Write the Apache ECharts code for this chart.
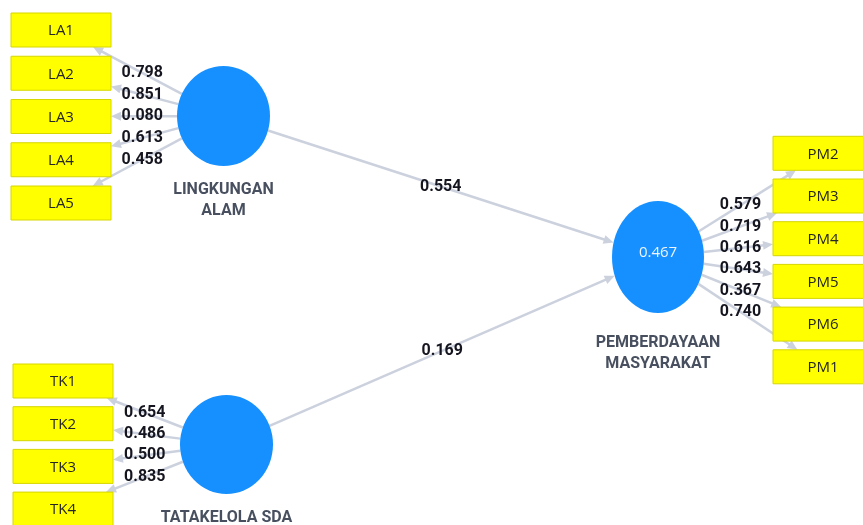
<!DOCTYPE html>
<html><head><meta charset="utf-8">
<script src="https://cdn.jsdelivr.net/npm/echarts@6/dist/echarts.min.js"></script>
<style>html,body{margin:0;padding:0;background:#fff}#c{width:863px;height:525px}</style>
</head><body><div id="c"></div>
<script>
// ---- data ----
const constructNames = ['LINGKUNGAN\nALAM', 'TATAKELOLA SDA', 'PEMBERDAYAAN\nMASYARAKAT'];
const constructR2 = ['', '', '0.467'];
const laIndicators = ['LA1', 'LA2', 'LA3', 'LA4', 'LA5'];
const laLoadings = [0.798, 0.851, 0.080, 0.613, 0.458];
const tkIndicators = ['TK1', 'TK2', 'TK3', 'TK4'];
const tkLoadings = [0.654, 0.486, 0.500, 0.835];
const pmIndicators = ['PM2', 'PM3', 'PM4', 'PM5', 'PM6', 'PM1'];
const pmLoadings = [0.579, 0.719, 0.616, 0.643, 0.367, 0.740];
const pathFrom = [0, 1];          // index into constructNames
const pathTo = [2, 2];
const pathCoefficients = [0.554, 0.169];

// ---- layout (positions / sizes) ----
const W = 863, H = 525;
const BOX_W = 100, BOX_H = 34;
const LABEL_LH = 21;
const constructLayout = [
  { cx: 223.5, cy: 116,   rx: 46.5, ry: 50,   boxX: 61,  boxY0: 30,    step: 43.25, labelDy: 74 },
  { cx: 226.5, cy: 444.5, rx: 46.5, ry: 49.5, boxX: 63,  boxY0: 381,   step: 42.7,  labelDy: 73.5 },
  { cx: 658,   cy: 257,   rx: 46,   ry: 56,   boxX: 823, boxY0: 153.3, step: 42.7,  labelDy: 86 }
];
const indicatorSets = [
  { names: laIndicators, loads: laLoadings },
  { names: tkIndicators, loads: tkLoadings },
  { names: pmIndicators, loads: pmLoadings }
];
const EDGE = '#ccd1de';
const FONT = '"Open Sans", "Noto Sans", sans-serif';
const BOLD_FONT = 'Roboto, "Open Sans", sans-serif';

function ellipseEdge(c, p) {
  const dx = p[0] - c.cx, dy = p[1] - c.cy;
  const s = 1 / Math.sqrt((dx / c.rx) ** 2 + (dy / c.ry) ** 2);
  return [c.cx + dx * s, c.cy + dy * s];
}
function boxEdge(b, p) {
  const dx = p[0] - b[0], dy = p[1] - b[1];
  const s = Math.min((BOX_W / 2) / Math.abs(dx || 1e-9), (BOX_H / 2) / Math.abs(dy || 1e-9));
  return [b[0] + dx * s, b[1] + dy * s];
}

const boxes = [], edges = [], edgeLabels = [], circles = [];
constructLayout.forEach((c, ci) => {
  circles.push([c.cx, c.cy, c.rx, c.ry, constructNames[ci], constructR2[ci], c.labelDy]);
  const set = indicatorSets[ci];
  set.names.forEach((n, i) => {
    const b = [c.boxX, c.boxY0 + i * c.step];
    boxes.push([b[0], b[1], n]);
    const s = ellipseEdge(c, b), e = boxEdge(b, [c.cx, c.cy]);
    edges.push([s[0], s[1], e[0], e[1]]);
    edgeLabels.push([(c.cx + b[0]) / 2, (c.cy + b[1]) / 2, set.loads[i].toFixed(3)]);
  });
});
pathFrom.forEach((f, k) => {
  const a = constructLayout[f], b = constructLayout[pathTo[k]];
  const s = ellipseEdge(a, [b.cx, b.cy]), e = ellipseEdge(b, [a.cx, a.cy]);
  edges.push([s[0], s[1], e[0], e[1]]);
  edgeLabels.push([(a.cx + b.cx) / 2, (a.cy + b.cy) / 2, pathCoefficients[k].toFixed(3)]);
});

const chart = echarts.init(document.getElementById('c'));
chart.setOption({
  animation: false,
  backgroundColor: '#fff',
  grid: { left: 0, right: 0, top: 0, bottom: 0 },
  xAxis: { type: 'value', min: 0, max: W, show: false },
  yAxis: { type: 'value', min: 0, max: H, inverse: true, show: false },
  series: [
    {
      type: 'custom', data: edges, z: 1, silent: true,
      renderItem(params, api) {
        const p1 = api.coord([api.value(0), api.value(1)]);
        const p2 = api.coord([api.value(2), api.value(3)]);
        const dx = p2[0] - p1[0], dy = p2[1] - p1[1], L = Math.hypot(dx, dy);
        const ux = dx / L, uy = dy / L, AL = 10, AW = 4.5;
        const bx = p2[0] - ux * AL, by = p2[1] - uy * AL;
        return { type: 'group', children: [
          { type: 'line', shape: { x1: p1[0], y1: p1[1], x2: bx + ux, y2: by + uy }, style: { stroke: EDGE, lineWidth: 2.5 } },
          { type: 'polygon', shape: { points: [[p2[0], p2[1]], [bx - uy * AW, by + ux * AW], [bx + uy * AW, by - ux * AW]] }, style: { fill: EDGE } }
        ] };
      }
    },
    {
      type: 'custom', data: boxes, z: 2, silent: true,
      renderItem(params, api) {
        const p = api.coord([api.value(0), api.value(1)]);
        const sz = api.size([BOX_W, BOX_H]);
        return { type: 'group', children: [
          { type: 'rect', shape: { x: p[0] - sz[0] / 2, y: p[1] - sz[1] / 2, width: sz[0], height: sz[1] },
            style: { fill: '#ffff00', stroke: '#d6d600', lineWidth: 1 } },
          { type: 'text', style: { text: boxes[params.dataIndex][2], x: p[0], y: p[1] + 1, align: 'center', verticalAlign: 'middle',
            fill: '#262626', fontSize: 15, fontFamily: FONT } }
        ] };
      }
    },
    {
      type: 'custom', data: circles, z: 3, silent: true,
      renderItem(params, api) {
        const d = circles[params.dataIndex];
        const p = api.coord([d[0], d[1]]);
        const sz = api.size([d[2], d[3]]);
        return { type: 'group', children: [
          { type: 'circle', x: p[0], y: p[1], scaleY: sz[1] / sz[0], shape: { cx: 0, cy: 0, r: sz[0] }, style: { fill: '#1690ff' } },
          { type: 'text', style: { text: d[5], x: p[0], y: p[1] - 4, align: 'center', verticalAlign: 'middle', fill: '#eef4ff', fontSize: 15, fontFamily: FONT } },
          { type: 'text', style: { text: d[4], x: p[0], y: p[1] + d[6] - LABEL_LH / 2, align: 'center', verticalAlign: 'top', lineHeight: LABEL_LH,
            fill: '#485060', fontSize: 16, fontWeight: 'bold', fontFamily: BOLD_FONT } }
        ] };
      }
    },
    {
      type: 'custom', data: edgeLabels, z: 4, silent: true,
      renderItem(params, api) {
        const d = edgeLabels[params.dataIndex];
        const p = api.coord([d[0], d[1]]);
        return { type: 'text', style: { text: d[2], x: p[0], y: p[1], align: 'center', verticalAlign: 'middle',
          fill: '#15151f', fontSize: 16, fontWeight: 'bold', fontFamily: BOLD_FONT } };
      }
    }
  ]
});
</script></body></html>
